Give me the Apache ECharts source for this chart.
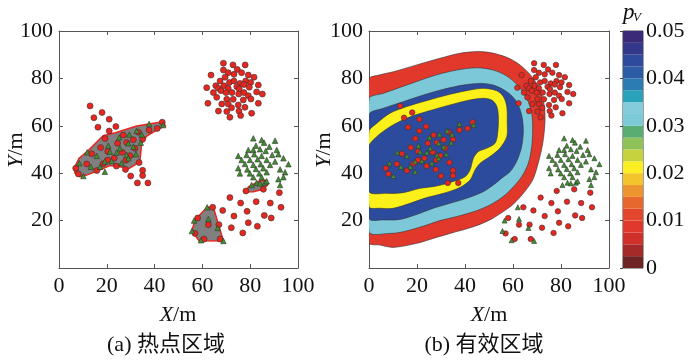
<!DOCTYPE html>
<html><head><meta charset="utf-8">
<script src="https://cdn.jsdelivr.net/npm/echarts@6/dist/echarts.min.js"></script>
<style>html,body{margin:0;padding:0;background:#fff}#c{width:700px;height:360px}</style>
</head><body><div id="c"></div><script>
// ---------- data ----------
const axisTicks = [0, 20, 40, 60, 80, 100];
const cbTicks = [0, 0.01, 0.02, 0.03, 0.04, 0.05];

const redPts = [
  // left cluster
  [13,68.4],[18,65.6],[14.6,63.4],[21,62.8],[16.3,59.4],[23.8,59.7],[21,57.8],[19.3,54.6],[26.9,56.1],
  [24.5,52.6],[28.3,53],[31.1,54.1],[35,54.3],[33.2,57.3],[37.7,58.2],[41.1,58.9],[43.2,61.5],
  [17.4,50.8],[13.7,48.2],[20.4,49.2],[26.5,48.8],[23.1,46.3],[20.4,45.6],[29.7,47.4],[31.8,50.5],
  [7,42.1],[8.1,39.7],[11.6,43.9],[15.8,41.1],[27.8,41.6],[30,38.8],[35,41.2],[35,39],[32.8,35.9],
  [37.2,35.9],[33.5,44.5],[24,43],[18.5,44],[28,45.5],
  // top-right cluster
  [68.8,86.4],[72.8,85.7],[77.9,85.7],[68.8,83.5],[74.6,83.8],[70.8,82.4],[76.4,82.4],[73.2,81.7],
  [63.6,81.4],[69.5,80.5],[79.2,81.4],[81.6,80.5],[67.4,78.9],[71.3,78.3],[73.2,78.9],[75.7,77.9],
  [78.1,78.9],[80.2,78.3],[65.6,76.9],[69,76.9],[74.4,76.5],[77.4,77.4],[79.6,76.3],[83.4,77.2],
  [61.8,76.1],[66.7,75.8],[67.8,74.8],[70.8,75.8],[75.4,75.5],[64.6,74],[69.9,74],[72.4,74],
  [75.2,73.4],[77.4,74],[82.7,74.3],[85.1,73.4],[66,72],[79.2,72.7],[70.2,71.2],[72.9,71.2],
  [77.1,70.9],[80.3,71.3],[62.3,69.5],[68.1,69.2],[70.8,69.2],[75,68.8],[83.4,69.5],[66.7,66.2],
  [70.2,66],[75.3,66.2],[80.6,65.3],[77.8,67.8],[71.5,63.6],[76,64.3],[72.2,67.6],
  // lower-right scattered
  [71.5,29.7],[68.5,24.3],[76,27.4],[82.5,28],[88.4,27.4],[92.2,31.8],[92.9,25.6],[73.2,21.9],
  [78.7,23.9],[85.9,22.2],[88.8,21.1],[79.2,19.1],[83,17.6],[72.1,17],[76.9,14.8],
  // lower hot-region points
  [58,21.1],[64.3,25.6],[62.5,18.3],[66.9,18.3],[56.9,14.6],[60.7,12.2],[67.4,12.2],
  [78.2,32.5],[85.5,33.2]
];

const greenPts = [
  // left cluster
  [37.7,60.8],[43.6,60.3],[32.5,57.9],[29.4,56.3],[34.6,56.3],[25.2,55.1],[20.6,51.6],[29,52.6],
  [31.1,51.2],[34.2,52.9],[25.5,50.5],[21.3,49.1],[11.8,48.8],[15.8,47.3],[24.1,48.7],[28.3,47.7],
  [32.2,48],[19.2,44.9],[22,45.1],[26.2,44.2],[29,46.3],[8.5,44.2],[19.2,40.6],[17.2,42.7],
  [10.2,38.8],[13.3,42.7],
  // right cluster
  [81.3,54.7],[84.8,54],[90.4,53.7],[82.4,51.6],[85.8,52.9],[79.2,49.8],[88,51.2],[91.1,49.8],
  [81.3,49.8],[84.1,50.1],[86.5,49.4],[91.8,48],[75,47.3],[78.5,47.7],[81.7,48],[84.8,47.3],
  [89.2,47.7],[93.9,46.3],[76.4,45.6],[79.9,45.6],[83.1,45.9],[86.9,45.6],[90.4,44.9],[77.8,43.9],
  [81.3,43.5],[84.4,43.8],[88.3,43.5],[96,43.8],[75,42.1],[78.8,41.6],[82.4,41.8],[85.5,42.1],
  [92.5,41.6],[75.7,39.9],[79.9,39.9],[83.8,39.9],[86.9,40.4],[94.6,40.4],[81.3,38.3],[84.8,38.3],
  [91.8,37.5],[82.7,36],[86.2,36],[93.9,38.3],[92.5,35],
  // hot-region points
  [80.6,35],[84.1,35.7],[86.9,36.6],
  [56.5,20],[62,25.6],[62.5,20.7],[55.6,15.6],[59.4,11.7],[68.8,11.4],[66.4,16.9]
];

// hot regions (panel a)
const hotRegionA = [[6.3,42.1],[8.4,46.3],[11.8,49.1],[18.5,55.8],[23.6,57.1],[32.5,59.9],[39.5,61.1],
  [43.4,61.7],[44.5,60],[40.9,58.2],[36.7,55.7],[34.6,52.6],[33.9,45.6],[31.8,43.5],[28.3,41.4],
  [26.9,42.5],[21.3,43.2],[17.2,41.4],[11.6,39.2],[8.8,38.5],[6.7,40]];
const hotRegionB = [[62,25.6],[64.6,25.6],[66.8,18.1],[68.8,11.4],[58.6,11.5],[55.6,15.6],[56.9,20.3]];
const hotRegionC = [[78.1,32.1],[79.3,34.3],[83.8,36.7],[86.9,37],[87.4,35.3],[85.5,33.2],[81.3,32.2]];

// contour boundaries (panel b), outermost first
const contourRed = [[0,79.6],[4.6,81.5],[10.1,82.8],[19.9,85.7],[29.6,88.5],[37.9,90.6],[44.9,91.3],
  [50.4,90.9],[57.4,88.9],[62.9,85.7],[67.8,80.8],[71.3,75.1],[73.1,68.1],[73.3,61.1],[72.4,52.6],
  [70.5,44.2],[68.2,37.1],[64.3,31.5],[60.2,27],[56,23.8],[50.4,20.3],[43.5,17.4],[33.8,14.6],
  [26.8,12.5],[19.9,10.4],[10.1,8.7],[4.6,9.7],[0,10.7]];
const contourCyan = [[0,71.3],[6,73.7],[12.9,76.2],[19.9,78.7],[28.2,81.5],[36.5,83.5],[44.9,84.5],
  [51.8,83.5],[57.4,81],[62.2,76.8],[65.7,71.6],[67.8,65.3],[68.2,58.2],[67.8,51.2],[66.4,44.2],
  [63.6,38.5],[60.2,34.3],[56.7,30.8],[53.9,28.7],[50.4,26.6],[44.9,24.2],[36.5,21.7],[29.6,20],
  [22.7,17.7],[14.3,15.3],[8.75,14.6],[0,15.4]];
const contourBlue = [[0,64.6],[6,67.4],[14.3,70.2],[22.7,73],[31,75.4],[39.3,77.2],[46.3,77.9],
  [51.8,77.2],[57.4,74.4],[61.5,70.2],[63.6,64.6],[64.3,58.2],[63.6,51.2],[61.5,44.9],[58.75,40.6],
  [55.3,37.9],[51.8,35],[47.6,32.2],[40.7,29.4],[33.75,27.3],[26.8,25.2],[19.9,22.6],[12.9,20.5],
  [6,20.3],[0,21]];
const contourYellow = [[0,57.6],[3.2,61],[8.75,65.3],[15.7,68.1],[24,70.6],[33.75,73.3],[42.1,75.1],
  [47.6,75.8],[53.2,74.8],[56,72.3],[57.4,68.1],[57.6,61.1],[57.4,55.4],[54.5,50.5],[50.4,47],
  [46.3,44.2],[44.2,41.4],[42.1,37.1],[37.9,34],[31,31.5],[24,29.7],[17.1,27.3],[10.1,25.2],
  [4.6,25.2],[0,25.9]];
const contourInner = [[0,51.3],[3.2,55.4],[8.75,59.6],[15.7,63.2],[24,66],[33.75,68.8],[42.1,70.9],
  [47.6,71.6],[51.1,70.9],[53.2,68.4],[53.9,63.8],[53.6,56.8],[52.5,52.6],[49,50.5],[45.5,49.1],
  [43.5,46.3],[42.1,41.4],[40,38.5],[35.1,36.5],[28.2,34.6],[21.25,33.6],[14.3,31.8],[7.4,31.5],
  [0,32.3]];

// colour bar steps
const cbLevels = [0,0.0025,0.005,0.0075,0.01,0.0125,0.015,0.0175,0.02,0.0225,0.025,0.0275,
  0.03,0.0325,0.035,0.0375,0.04,0.0425,0.045,0.0475];
const cbColors = ['#6e2424','#a32a28','#d0302a','#e0382c','#e2462c','#e6682e','#ec9430','#f4c42c',
  '#fbee22','#c6d33e','#90c25a','#5aad72','#7ccad8','#84cbdb','#2aa2ba','#2a7cb2','#2d5ca6',
  '#2e4a9c','#33388a','#3a2a78'];

// ---------- chart ----------
const SERIF = "'Liberation Serif','Times New Roman',serif";
const AX = '#555';
function mkX(grid, pos, labels) {
  return {type:'value', gridIndex:grid, position:pos, min:0, max:100, interval:20,
    axisLine:{show:true, onZero:false, lineStyle:{color:AX, width:1}},
    axisTick:{show:true, inside:true, length:4, lineStyle:{color:AX}},
    axisLabel:{show:labels, color:'#111', fontFamily:SERIF, fontSize:22, margin:7},
    splitLine:{show:false}};
}
function mkY(grid, pos, labels) {
  return {type:'value', gridIndex:grid, position:pos, min:0, max:100, interval:20,
    axisLine:{show:true, onZero:false, lineStyle:{color:AX, width:1}},
    axisTick:{show:true, inside:true, length:4, lineStyle:{color:AX}},
    axisLabel:{show:labels, showMinLabel:false, color:'#111', fontFamily:SERIF, fontSize:22, margin:6},
    splitLine:{show:false}};
}
function polySeries(pts, xi, yi, fill, stroke, lw, smooth, z) {
  return {type:'custom', coordinateSystem:'cartesian2d', xAxisIndex:xi, yAxisIndex:yi,
    clip:true, silent:true, z:z, data:[[pts[0][0], pts[0][1]]],
    renderItem: function (params, api) {
      const points = pts.map(p => api.coord(p));
      return {type:'polygon', shape:{points:points, smooth:smooth},
        style:{fill:fill, stroke:stroke, lineWidth:lw}};
    }};
}
function scat(data, xi, yi, sym, size, color, z) {
  return {type:'scatter', xAxisIndex:xi, yAxisIndex:yi, data:data, symbol:sym, symbolSize:size,
    itemStyle:{color:color, borderColor:'#333', borderWidth:0.6, opacity:1}, z:z, silent:true};
}
const RED = '#e8261f', GREEN = '#3f8f2c';
const series = [
  polySeries(hotRegionA, 0, 0, '#808080', '#e8261f', 1.5, 0, 2),
  polySeries(hotRegionB, 0, 0, '#808080', '#e8261f', 1.5, 0, 2),
  polySeries(hotRegionC, 0, 0, '#808080', '#e8261f', 1.5, 0, 2),
  scat(redPts, 0, 0, 'circle', 6, RED, 5),
  scat(greenPts, 0, 0, 'triangle', 5.5, GREEN, 6),
  polySeries(contourRed, 2, 2, '#e2382b', '#333', 0.6, 0.3, 2),
  polySeries(contourCyan, 2, 2, '#7cc8d8', '#333', 0.6, 0.3, 2),
  polySeries(contourBlue, 2, 2, '#2d4b9c', '#333', 0.6, 0.3, 2),
  polySeries(contourYellow, 2, 2, '#fcf01a', '#333', 0.6, 0.3, 2),
  polySeries(contourInner, 2, 2, '#2d4b9c', '#333', 0.6, 0.3, 2),
  scat(redPts, 2, 2, 'circle', 5.5, RED, 5),
  scat(greenPts, 2, 2, 'triangle', 5, GREEN, 6),
  {type:'custom', coordinateSystem:'cartesian2d', xAxisIndex:4, yAxisIndex:4, silent:true, z:2,
    data: cbLevels.map((lo, i) => [0, lo, i < cbLevels.length - 1 ? cbLevels[i+1] : 0.05]),
    encode:{x:0, y:[1,2]},
    renderItem: function (params, api) {
      const p1 = api.coord([0, api.value(2)]);
      const p2 = api.coord([1, api.value(1)]);
      return {type:'rect', shape:{x:p1[0], y:p1[1], width:p2[0]-p1[0], height:p2[1]-p1[1]},
        style:{fill:cbColors[params.dataIndex]}};
    }}
];

function richText(x, y, text, rot) {
  return {type:'text', x:x, y:y, rotation:rot || 0, silent:true,
    style:{text:text, align:'center', verticalAlign:'middle',
      rich:{i:{fontFamily:SERIF, fontSize:22, fontStyle:'italic', fill:'#111'},
            n:{fontFamily:SERIF, fontSize:22, fill:'#111'}}}};
}
const CAP_FONT = "22px 'Liberation Serif','Noto Sans CJK SC',serif";
const option = {
  animation:false,
  backgroundColor:'#fff',
  grid:[
    {left:59, top:31, width:239, height:237},
    {left:369, top:31, width:240, height:237},
    {left:623, top:31, width:20, height:237, show:true, borderColor:'#444', borderWidth:1}
  ],
  xAxis:[mkX(0,'bottom',true), mkX(0,'top',false), mkX(1,'bottom',true), mkX(1,'top',false),
    {type:'value', gridIndex:2, min:0, max:1, show:false}],
  yAxis:[mkY(0,'left',true), mkY(0,'right',false), mkY(1,'left',true), mkY(1,'right',false),
    {type:'value', gridIndex:2, position:'right', min:0, max:0.05, interval:0.01,
      axisLine:{show:false}, axisTick:{show:true, inside:true, length:3, lineStyle:{color:'#444'}},
      axisLabel:{color:'#111', fontFamily:SERIF, fontSize:22, margin:3,
        formatter: v => v === 0 ? '0' : v.toFixed(2)},
      splitLine:{show:false}}],
  series: series,
  graphic:[
    richText(16, 150, '{i|Y}{n|/m}', Math.PI/2),
    richText(324, 150, '{i|Y}{n|/m}', Math.PI/2),
    richText(178, 315, '{i|X}{n|/m}'),
    richText(489, 315, '{i|X}{n|/m}'),
    {type:'text', x:166, y:345, silent:true, style:{text:'(a) 热点区域', font:CAP_FONT, fill:'#111', align:'center', verticalAlign:'middle'}},
    {type:'text', x:484, y:345, silent:true, style:{text:'(b) 有效区域', font:CAP_FONT, fill:'#111', align:'center', verticalAlign:'middle'}},
    {type:'text', x:623, y:1, silent:true, style:{text:'p', font:"italic 23px 'Liberation Serif',serif", fill:'#111'}},
    {type:'text', x:633, y:11, silent:true, style:{text:'V', font:"italic 13px 'Liberation Serif',serif", fill:'#111'}}
  ]
};
const chart = echarts.init(document.getElementById('c'), null, {renderer:'canvas'});
chart.setOption(option);
</script></body></html>
